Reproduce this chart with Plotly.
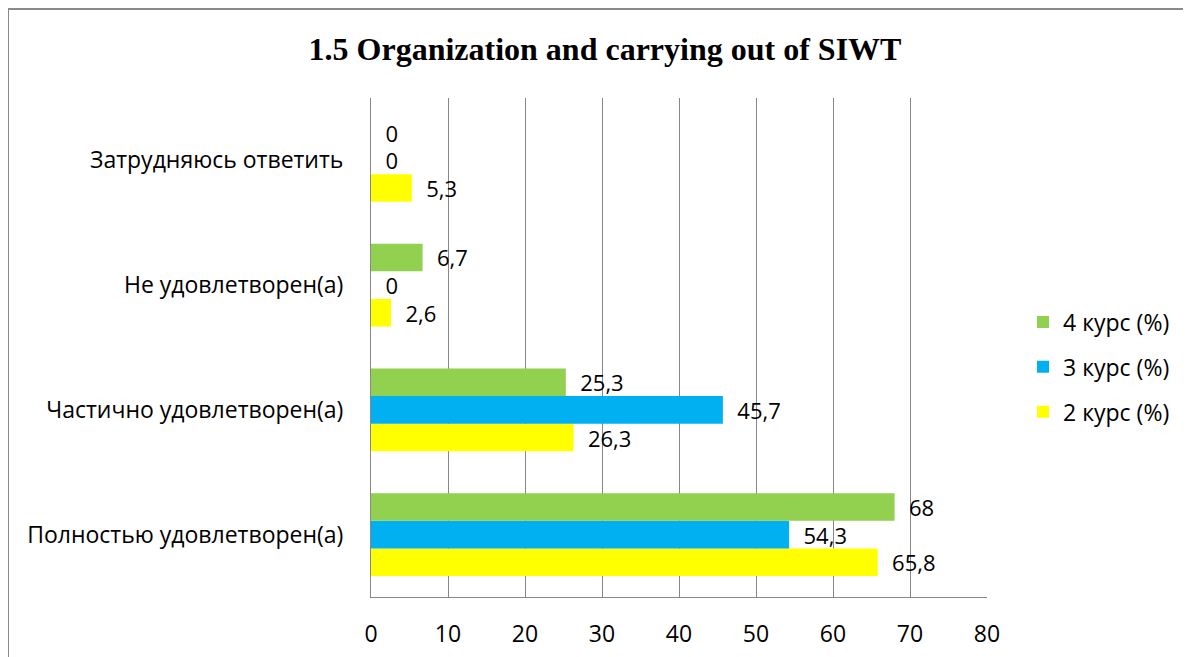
import plotly.graph_objects as go

categories = ["Полностью удовлетворен(а)", "Частично удовлетворен(а)", "Не удовлетворен(а)", "Затрудняюсь ответить"]
series_names = ["2 курс (%)", "3 курс (%)", "4 курс (%)"]
values_2 = [65.8, 26.3, 2.6, 5.3]
values_3 = [54.3, 45.7, 0, 0]
values_4 = [68, 25.3, 6.7, 0]
colors = ["#FFFF00", "#00B0F0", "#92D050"]
legend_ranks = [3, 2, 1]
x_ticks = [0, 10, 20, 30, 40, 50, 60, 70, 80]

FONT = "Open Sans"
FS = 23
LFS = 22

def fmt(v):
    return "\u00a0\u00a0" + (f"{v:g}".replace(".", ","))

fig = go.Figure()
for name, vals, col, rk in zip(series_names, [values_2, values_3, values_4], colors, legend_ranks):
    fig.add_trace(go.Bar(
        y=categories, x=vals, name=name, orientation="h",
        marker=dict(color=col, line=dict(width=0)),
        text=[fmt(v) for v in vals], textposition="outside",
        textfont=dict(family=FONT, size=LFS, color="black"),
        outsidetextfont=dict(family=FONT, size=LFS, color="black"),
        constraintext="none", cliponaxis=False,
        legendgroup=name, legendrank=rk,
    ))

# the page body has an 8px margin; work in page pixels and offset
OFF = 8
W, H = 1191 - OFF, 657 - OFF
L, R, T, B = 371 - OFF, 1191 - 987, 98 - OFF, 657 - 597
pw, ph = W - L - R, H - T - B

def px_x(p):
    return (p - OFF - L) / pw

def px_y(p):
    return (H - B - (p - OFF)) / ph

fig.update_layout(
    width=W, height=H,
    margin=dict(l=L, r=R, t=T, b=B, autoexpand=False),
    paper_bgcolor="white", plot_bgcolor="white",
    barmode="group", bargap=0.335, bargroupgap=0,
    title=dict(text="<b>1.5 Organization and carrying out of SIWT</b>",
               x=(605 - OFF) / W, xanchor="center", xref="container",
               y=1 - (49 - OFF) / H, yanchor="middle", yref="container",
               font=dict(family="Liberation Serif", size=32, color="black")),
    font=dict(family=FONT, size=FS, color="black"),
    showlegend=True,
    legend=dict(x=px_x(1023), xanchor="left", y=px_y(367), yanchor="middle",
                traceorder="grouped", tracegroupgap=12,
                font=dict(family=FONT, size=FS, color="black"),
                bgcolor="rgba(0,0,0,0)"),
    xaxis=dict(range=[0, 80], tickvals=x_ticks, showgrid=True, gridcolor="#878787",
               gridwidth=1, showline=True, linecolor="#878787", linewidth=1,
               zeroline=False, ticks="", ticklabelstandoff=16,
               tickfont=dict(family=FONT, size=FS, color="black"), fixedrange=True),
    yaxis=dict(type="category", categoryorder="array", categoryarray=categories,
               showgrid=False, showline=True, linecolor="#878787", linewidth=1,
               ticks="", ticklabelstandoff=22, automargin=False,
               tickfont=dict(family=FONT, size=FS, color="black"), fixedrange=True),
    shapes=[dict(type="rect", xref="paper", yref="paper",
                 x0=px_x(8), x1=px_x(1205), y0=px_y(680), y1=px_y(9),
                 line=dict(color="#8a8a8a", width=2), fillcolor="rgba(0,0,0,0)",
                 layer="below")],
)

fig.write_html("out.html")
